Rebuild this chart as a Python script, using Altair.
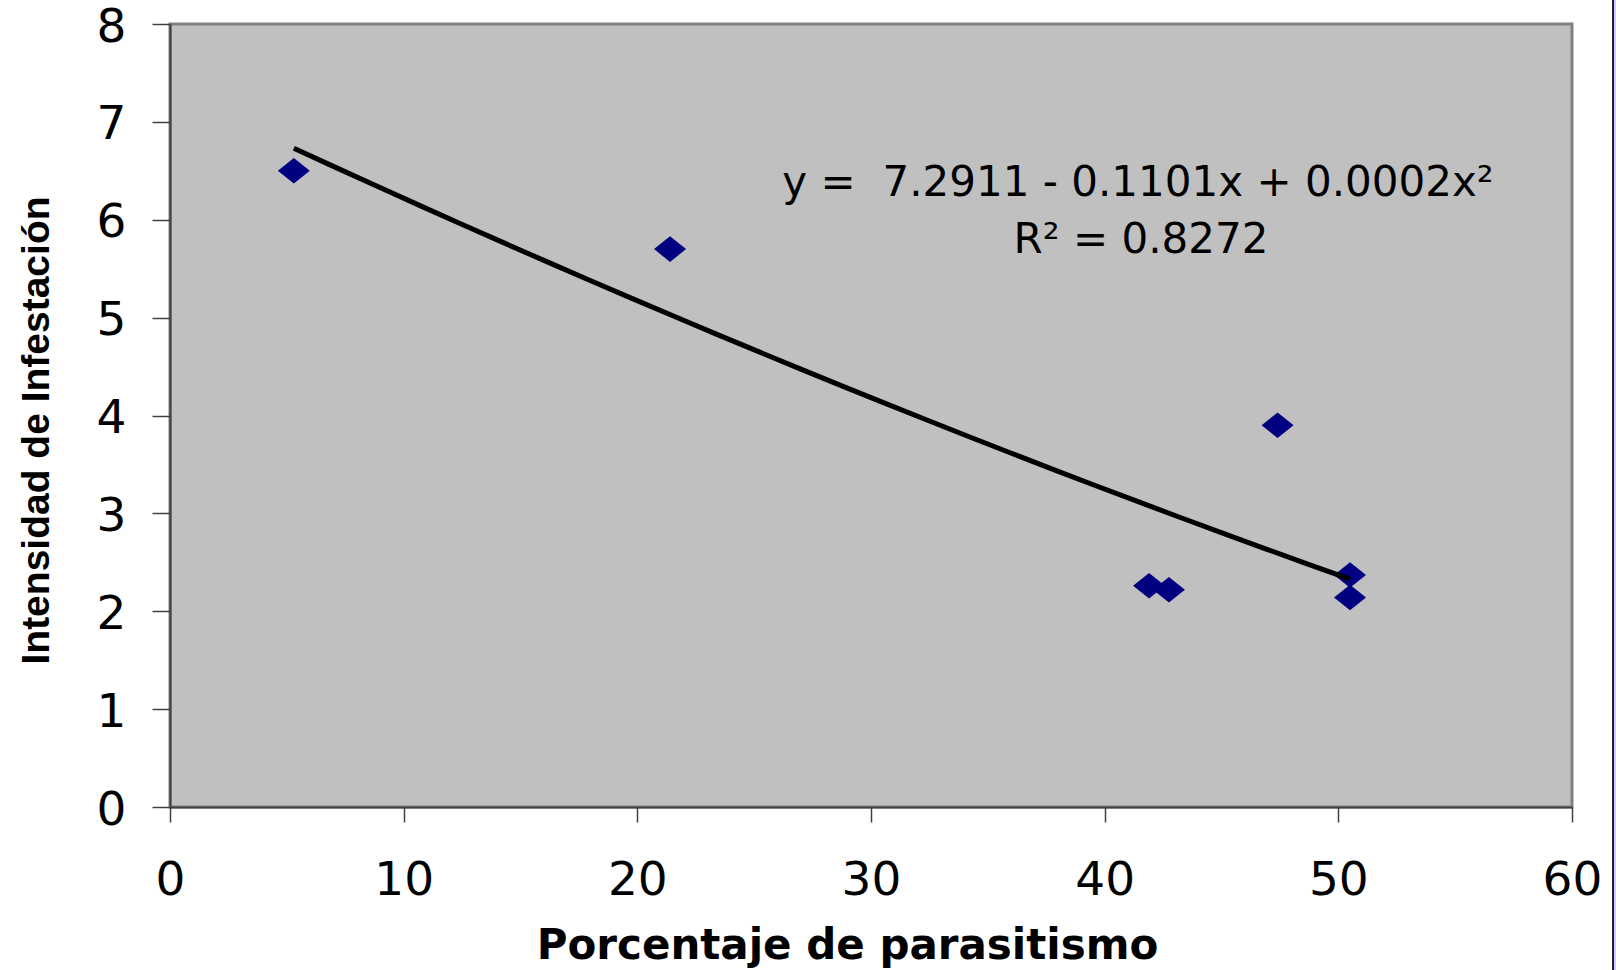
import altair as alt
import pandas as pd

# Parasitism percentage vs. infestation intensity, one point per sample
pct_parasitismo = [5.3, 21.4, 41.9, 42.75, 47.4, 50.5, 50.5]
intensidad = [6.5, 5.7, 2.26, 2.22, 3.9, 2.37, 2.14]

x_ticks = [0, 10, 20, 30, 40, 50, 60]
y_ticks = [0, 1, 2, 3, 4, 5, 6, 7, 8]

ecuacion = ["y = \u00a07.2911 - 0.1101x + 0.0002x\u00b2"]
r_cuadrado = ["R\u00b2 = 0.8272"]

df = pd.DataFrame({"x": pct_parasitismo, "y": intensidad})

W, H = 1402, 783

x_enc = alt.X(
    "x:Q",
    scale=alt.Scale(domain=[0, 60], nice=False, zero=False),
    axis=alt.Axis(
        values=x_ticks,
        format="d",
        title="Porcentaje de parasitismo",
        titleFont="DejaVu Sans",
        titleFontWeight="bold",
        titleFontSize=42,
        titleColor="#000000",
        titleX=677,
        titleY=151,
        titleAlign="center",
        titleBaseline="alphabetic",
        labelFont="DejaVu Sans",
        labelFontSize=47,
        labelColor="#000000",
        labelPadding=35,
        tickSize=15,
        tickColor="#404040",
        tickWidth=1.5,
        domainColor="#404040",
        domainWidth=2,
        grid=False,
        labelFlush=False,
    ),
)
y_enc = alt.Y(
    "y:Q",
    scale=alt.Scale(domain=[0, 8], nice=False, zero=False),
    axis=alt.Axis(
        values=y_ticks,
        format="d",
        title="Intensidad de Infestación",
        titleFont="Liberation Sans",
        titleFontWeight="bold",
        titleFontSize=39,
        titleColor="#000000",
        titleAngle=270,
        titleX=-134,
        titleY=406,
        titleAlign="center",
        titleBaseline="middle",
        labelFont="DejaVu Sans",
        labelFontSize=47,
        labelColor="#000000",
        labelPadding=26,
        labelOffset=3,
        tickSize=18,
        tickColor="#404040",
        tickWidth=1.5,
        domainColor="#404040",
        domainWidth=2,
        grid=False,
        labelFlush=False,
    ),
)

puntos = alt.Chart(df).mark_point(
    shape="M -1 0 L 0 -0.8 L 1 0 L 0 0.8 Z",
    size=1024,
    filled=True,
    color="#000080",
    opacity=1,
).encode(x=x_enc, y=y_enc)

# Second-order polynomial trend line fitted to the samples
tendencia = alt.Chart(df).transform_regression(
    "x", "y", method="poly", order=2
).mark_line(color="#000000", strokeWidth=5).encode(x="x:Q", y="y:Q")

texto_ec = alt.Chart(pd.DataFrame({"t": ecuacion})).mark_text(
    font="DejaVu Sans", fontSize=42, align="center", baseline="alphabetic", color="#000000"
).encode(x=alt.value(968), y=alt.value(172), text="t:N")

texto_r2 = alt.Chart(pd.DataFrame({"t": r_cuadrado})).mark_text(
    font="DejaVu Sans", fontSize=42, align="center", baseline="alphabetic", color="#000000"
).encode(x=alt.value(971), y=alt.value(229), text="t:N")

# Outer frame edge on the right side of the chart area
borde = alt.Chart(pd.DataFrame({"k": [0]})).mark_rule(
    color="#1c1c2a", strokeWidth=2
).encode(x=alt.value(1443), y=alt.value(-24), y2=alt.value(946))
borde2 = alt.Chart(pd.DataFrame({"k": [0]})).mark_rule(
    color="#ccccff", strokeWidth=3
).encode(x=alt.value(1445.5), y=alt.value(-24), y2=alt.value(946))

chart = (
    alt.layer(puntos, tendencia, texto_ec, texto_r2, borde, borde2)
    .properties(
        width=W,
        height=H,
        autosize=alt.AutoSizeParams(type="none"),
        padding={"left": 170, "top": 24, "right": 44, "bottom": 163},
        background="#ffffff",
    )
    .configure_view(fill="#C0C0C0", stroke="#808080", strokeWidth=3)
)

chart.save("out.html", embed_options={"renderer": "svg", "actions": False})
